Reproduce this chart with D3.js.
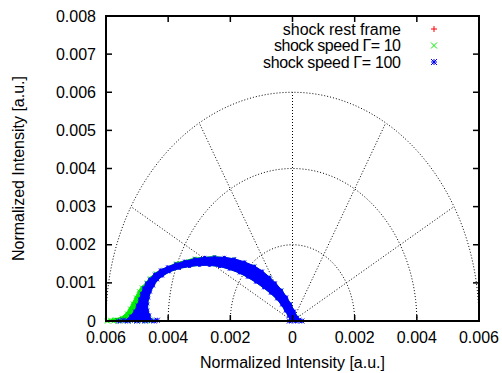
<!DOCTYPE html>
<html>
<head>
<meta charset="utf-8">
<script src="https://cdn.jsdelivr.net/npm/d3@7"></script>
<style>
  body { margin: 0; background: #fff; }
  text { font-family: "Liberation Sans", Arial, sans-serif; }
</style>
</head>
<body>
<div id="chart"></div>
<script>
// tick labels (gnuplot polar shows absolute values on x)
const xTicks = [-0.006, -0.004, -0.002, 0, 0.002, 0.004, 0.006];
const xTickLabels = ['0.006', '0.004', '0.002', '0', '0.002', '0.004', '0.006'];
const yTicks = [0, 0.001, 0.002, 0.003, 0.004, 0.005, 0.006, 0.007, 0.008];
const yTickLabels = ['0', '0.001', '0.002', '0.003', '0.004', '0.005', '0.006', '0.007', '0.008'];
const gridRadii = [0.002, 0.004, 0.006];
const gridAngles = [30, 60, 90, 120, 150];

const seriesNames = ['shock rest frame', 'shock speed \u0393= 10', 'shock speed \u0393= 100'];

// shock rest frame (mostly hidden under the other two)
const redPoints = [[-0.00500, 0.0001], [-0.00480, 0.0005], [-0.00465, 0.0009], [-0.00430, 0.00125],
  [-0.00360, 0.00148], [-0.00280, 0.00157], [-0.00200, 0.00152], [-0.00130, 0.00130],
  [-0.00070, 0.00095], [-0.00030, 0.00055], [-0.00005, 0.00015]];

// Gamma = 10 : outer edge of the point cloud, left to right
const greenOuter = [[-0.00598, 0], [-0.00573, 0.00005], [-0.00550, 0.00010], [-0.00534, 0.00021],
  [-0.00524, 0.00034], [-0.00515, 0.00047], [-0.00505, 0.00063], [-0.00495, 0.00079],
  [-0.00486, 0.00089], [-0.00470, 0.00102], [-0.00460, 0.00113], [-0.00441, 0.00126],
  [-0.00415, 0.00136], [-0.00376, 0.00152], [-0.00315, 0.00165], [-0.00251, 0.00169],
  [-0.00187, 0.00163], [-0.00122, 0.00144], [-0.00074, 0.00115], [-0.00035, 0.00081],
  [-0.00006, 0.00045], [0.00016, 0.00010], [0.00029, 0]];
const greenBase = [[-0.00595, 0], [-0.00585, 0.00002], [-0.00575, 0], [-0.00565, 0.00002],
  [-0.00555, 0], [-0.00545, 0.00002], [-0.00530, 0], [-0.00515, 0.00002], [-0.00500, 0],
  [-0.00485, 0.00002], [-0.00470, 0], [-0.00455, 0.00002]];

// Gamma = 100 : outer edge left to right, inner edge right to left
const blueOuter = [[-0.00540, 0], [-0.00521, 0.00013], [-0.00508, 0.00026], [-0.00499, 0.00042],
  [-0.00492, 0.00058], [-0.00486, 0.00073], [-0.00479, 0.00087], [-0.00470, 0.00100],
  [-0.00460, 0.00110], [-0.00444, 0.00123], [-0.00425, 0.00134], [-0.00402, 0.00142],
  [-0.00376, 0.00150], [-0.00347, 0.00157], [-0.00315, 0.00163], [-0.00283, 0.00167],
  [-0.00251, 0.00168], [-0.00219, 0.00167], [-0.00187, 0.00163], [-0.00154, 0.00155],
  [-0.00122, 0.00144], [-0.00097, 0.00131], [-0.00074, 0.00115], [-0.00055, 0.00100],
  [-0.00035, 0.00081], [-0.00019, 0.00063], [-0.00006, 0.00045], [0.00006, 0.00026],
  [0.00016, 0.00010], [0.00029, 0]];
const blueInner = [[-0.00006, 0], [-0.00013, 0.00013], [-0.00023, 0.00026], [-0.00035, 0.00042],
  [-0.00051, 0.00058], [-0.00071, 0.00073], [-0.00093, 0.00087], [-0.00119, 0.00102],
  [-0.00145, 0.00115], [-0.00171, 0.00126], [-0.00203, 0.00136], [-0.00235, 0.00143],
  [-0.00267, 0.00146], [-0.00299, 0.00146], [-0.00331, 0.00143], [-0.00364, 0.00138],
  [-0.00396, 0.00129], [-0.00418, 0.00118], [-0.00434, 0.00108], [-0.00447, 0.00092],
  [-0.00457, 0.00076], [-0.00463, 0.00060], [-0.00466, 0.00045], [-0.00466, 0.00029],
  [-0.00460, 0.00016], [-0.00454, 0]];
const blueBase = [[-0.00560, 0], [-0.00545, 0.00002], [-0.00530, 0], [-0.00515, 0.00002],
  [-0.00500, 0], [-0.00490, 0.00002], [-0.00475, 0], [-0.00460, 0.00002], [-0.00445, 0],
  [-0.00435, 0.00002], [-0.00010, 0], [0.00000, 0.00002], [0.00010, 0], [0.00020, 0.00002],
  [0.00030, 0]];

const width = 502, height = 373;
const margin = {top: 16, right: 23, bottom: 52, left: 106};

const svg = d3.select('#chart').append('svg')
  .attr('width', width)
  .attr('height', height);

const x = d3.scaleLinear().domain([-0.006, 0.006]).range([margin.left, width - margin.right]);
const y = d3.scaleLinear().domain([0, 0.008]).range([height - margin.bottom, margin.top]);

// polar grid
const grid = svg.append('g')
  .attr('fill', 'none')
  .attr('stroke', '#000')
  .attr('stroke-width', 1)
  .attr('stroke-dasharray', '1,2');

const arcLine = d3.line().x(d => x(d[0])).y(d => y(d[1]));
gridRadii.forEach(r => {
  const pts = d3.range(0, 181, 2).map(a => [r * Math.cos(a * Math.PI / 180), r * Math.sin(a * Math.PI / 180)]);
  grid.append('path').attr('d', arcLine(pts));
});
gridAngles.forEach(a => {
  const r = d3.max(gridRadii);
  grid.append('line')
    .attr('x1', x(0)).attr('y1', y(0))
    .attr('x2', x(r * Math.cos(a * Math.PI / 180)))
    .attr('y2', y(r * Math.sin(a * Math.PI / 180)));
});

// symbols
function symbol(shape, s) {
  if (shape === 'plus') return `M-${s},0H${s}M0,-${s}V${s}`;
  if (shape === 'cross') return `M-${s},-${s}L${s},${s}M-${s},${s}L${s},-${s}`;
  return `M-${s},0H${s}M0,-${s}V${s}M-${s},-${s}L${s},${s}M-${s},${s}L${s},-${s}`;
}
function drawPoints(data, shape, color, s) {
  svg.append('g').selectAll('path')
    .data(data)
    .join('path')
    .attr('transform', d => `translate(${x(d[0])},${y(d[1])})`)
    .attr('d', symbol(shape, s))
    .attr('fill', 'none')
    .attr('stroke', color)
    .attr('stroke-width', 1);
}
function drawBand(outer, inner, color) {
  svg.append('path')
    .attr('d', arcLine(outer.concat(inner)) + 'Z')
    .attr('fill', color)
    .attr('stroke', color)
    .attr('stroke-width', 1);
}

drawPoints(redPoints, 'plus', '#ff0000', 3);
drawBand(greenOuter, blueInner, '#00ee00');
drawPoints(greenOuter, 'cross', '#00ee00', 1.5);
drawPoints(greenBase, 'cross', '#00ee00', 2.5);
drawBand(blueOuter, blueInner, '#0000ff');
drawPoints(blueOuter, 'star', '#0000ff', 1.5);
drawPoints(blueInner, 'star', '#0000ff', 1.5);
drawPoints(blueBase, 'star', '#0000ff', 2.5);

// frame and ticks
const axes = svg.append('g').attr('stroke', '#000');
axes.append('rect')
  .attr('x', margin.left).attr('y', margin.top)
  .attr('width', width - margin.left - margin.right)
  .attr('height', height - margin.top - margin.bottom)
  .attr('fill', 'none')
  .attr('stroke-width', 2);

xTicks.forEach(t => {
  axes.append('line').attr('x1', x(t)).attr('x2', x(t))
    .attr('y1', y(0)).attr('y2', y(0) - 6).attr('stroke-width', 1.5);
  axes.append('line').attr('x1', x(t)).attr('x2', x(t))
    .attr('y1', y(0.008)).attr('y2', y(0.008) + 6).attr('stroke-width', 1.5);
});
yTicks.forEach(t => {
  axes.append('line').attr('x1', x(-0.006)).attr('x2', x(-0.006) + 6)
    .attr('y1', y(t)).attr('y2', y(t)).attr('stroke-width', 1.5);
  axes.append('line').attr('x1', x(0.006)).attr('x2', x(0.006) - 6)
    .attr('y1', y(t)).attr('y2', y(t)).attr('stroke-width', 1.5);
});

svg.append('g').selectAll('text')
  .data(xTicks)
  .join('text')
  .attr('x', d => x(d))
  .attr('y', y(0) + 22)
  .attr('text-anchor', 'middle')
  .attr('font-size', 16)
  .text((d, i) => xTickLabels[i]);

svg.append('g').selectAll('text')
  .data(yTicks)
  .join('text')
  .attr('x', margin.left - 10)
  .attr('y', d => y(d))
  .attr('dy', '0.35em')
  .attr('text-anchor', 'end')
  .attr('font-size', 16)
  .text((d, i) => yTickLabels[i]);

// axis titles
svg.append('text')
  .attr('x', x(0))
  .attr('y', 368)
  .attr('text-anchor', 'middle')
  .attr('font-size', 16)
  .text('Normalized Intensity [a.u.]');

svg.append('text')
  .attr('transform', `translate(24,${(y(0) + y(0.008)) / 2}) rotate(-90)`)
  .attr('text-anchor', 'middle')
  .attr('font-size', 16)
  .text('Normalized Intensity [a.u.]');

// legend
const legendColors = ['#ff0000', '#00ee00', '#0000ff'];
const legendShapes = ['plus', 'cross', 'star'];
const legend = svg.append('g');
seriesNames.forEach((name, i) => {
  const ly = 29 + i * 16.5;
  legend.append('text')
    .attr('x', 401).attr('y', ly).attr('dy', '0.35em')
    .attr('text-anchor', 'end')
    .attr('font-size', 16)
    .attr('textLength', i === 0 ? null : (i === 1 ? 127 : 138))
    .text(name);
  legend.append('path')
    .attr('transform', `translate(434,${ly})`)
    .attr('d', symbol(legendShapes[i], 3))
    .attr('fill', 'none')
    .attr('stroke', legendColors[i]);
});
</script>
</body>
</html>
